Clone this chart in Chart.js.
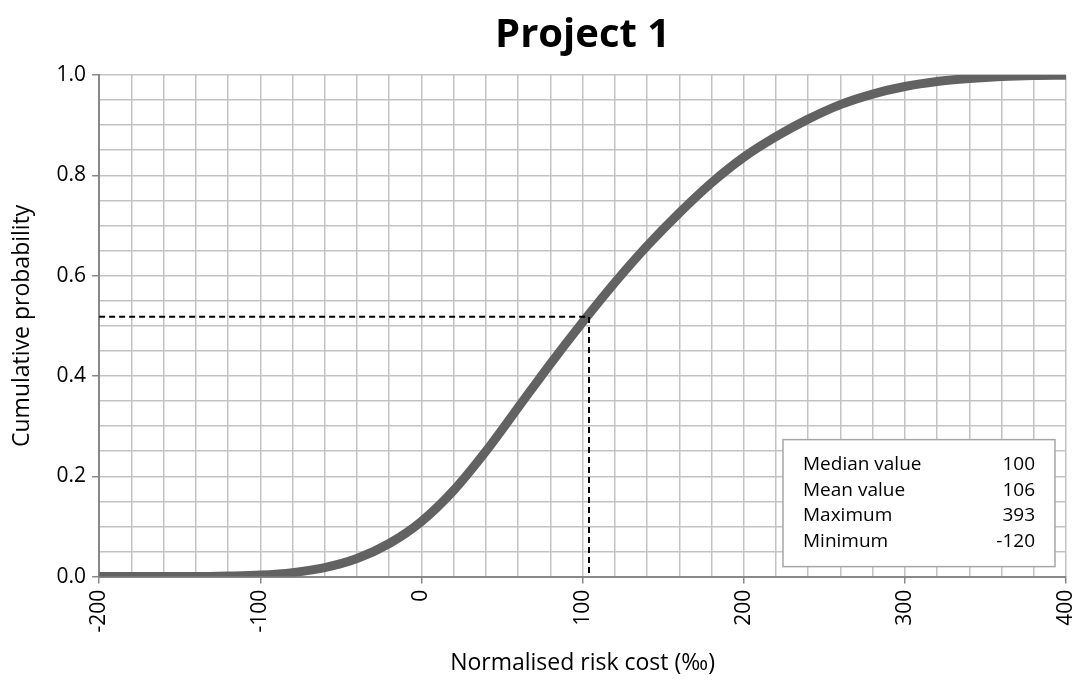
<!DOCTYPE html>
<html>
<head>
<meta charset="utf-8">
<script src="https://cdn.jsdelivr.net/npm/chart.js@4"></script>
<style>
  html, body { margin: 0; padding: 0; background: #fff; }
  #wrap { width: 1078px; height: 681px; }
</style>
</head>
<body>
<div id="wrap"><canvas id="grafico"></canvas></div>
<script>
// dados
const riskCost = [-200, -180, -160, -140, -120, -100, -80, -60, -40, -20, 0, 20, 40, 60, 80, 100,
  120, 140, 160, 180, 200, 220, 240, 260, 280, 300, 320, 340, 360, 380, 400];
const cumulativeProb = [0, 0, 0, 0, 0.001, 0.003, 0.008, 0.018, 0.036, 0.066, 0.110, 0.172, 0.250, 0.337, 0.424, 0.507,
  0.586, 0.659, 0.725, 0.785, 0.836, 0.877, 0.912, 0.941, 0.962, 0.977, 0.987, 0.993, 0.997, 0.999, 0.9995];

// linha tracejada (valor médio)
const markerX = 104;
const markerY = 0.518;

// caixa de estatísticas
const statLabels = ['Median value', 'Mean value', 'Maximum', 'Minimum'];
const statValues = ['100', '106', '393', '-120'];

const fonte = '"Open Sans", sans-serif';

const caixaStats = {
  id: 'caixaStats',
  afterDatasetsDraw(chart) {
    const ctx = chart.ctx;
    const area = chart.chartArea;
    const w = 272, h = 127;
    const x = area.right - 11 - w;
    const y = area.bottom - 10 - h;
    ctx.save();
    ctx.fillStyle = '#fff';
    ctx.fillRect(x, y, w, h);
    ctx.strokeStyle = '#a6a6a6';
    ctx.lineWidth = 1.5;
    ctx.strokeRect(x, y, w, h);
    ctx.fillStyle = '#000';
    ctx.font = '19px ' + fonte;
    ctx.textBaseline = 'middle';
    for (let i = 0; i < statLabels.length; i++) {
      const ty = y + 25 + i * 25.5;
      ctx.textAlign = 'left';
      ctx.fillText(statLabels[i], x + 20, ty);
      ctx.textAlign = 'right';
      ctx.fillText(statValues[i], x + w - 20, ty);
    }
    ctx.restore();
  }
};

const pontos = riskCost.map((v, i) => ({ x: v, y: cumulativeProb[i] }));

new Chart(document.getElementById('grafico'), {
  type: 'line',
  data: {
    datasets: [
      {
        data: [{ x: riskCost[0], y: markerY }, { x: markerX, y: markerY }, { x: markerX, y: 0 }],
        borderColor: '#000',
        borderWidth: 2,
        borderDash: [6, 4],
        pointRadius: 0,
        tension: 0
      },
      {
        data: pontos,
        borderColor: '#626262',
        borderWidth: 9,
        pointRadius: 0,
        cubicInterpolationMode: 'monotone'
      }
    ]
  },
  options: {
    responsive: true,
    maintainAspectRatio: false,
    animation: false,
    layout: { padding: { top: 12, right: 0, left: 9, bottom: 4 } },
    plugins: {
      legend: { display: false },
      tooltip: { enabled: false },
      title: {
        display: true,
        text: 'Project 1',
        fullSize: false,
        color: '#000',
        font: { family: fonte, size: 40, weight: 'bold' },
        padding: { top: 0, bottom: 15 }
      }
    },
    scales: {
      x: {
        type: 'linear',
        min: -200,
        max: 400,
        afterFit: s => { s.paddingRight = 12; },
        ticks: {
          stepSize: 20,
          autoSkip: false,
          maxRotation: 90,
          minRotation: 90,
          color: '#000',
          font: { family: fonte, size: 21 },
          padding: 6,
          callback: v => (Math.round(v) % 100 === 0 ? String(v) : '')
        },
        grid: {
          color: '#c3c3c3',
          lineWidth: 1.5,
          tickLength: 7,
          tickColor: c => (c.tick && Math.round(c.tick.value) % 100 === 0 ? '#888' : 'rgba(0,0,0,0)')
        },
        border: { display: true, color: '#888', width: 2 },
        title: {
          display: true,
          text: 'Normalised risk cost (‰)',
          color: '#000',
          font: { family: fonte, size: 23 },
          padding: { top: 11, bottom: 0 }
        }
      },
      y: {
        min: 0,
        max: 1,
        ticks: {
          stepSize: 0.05,
          autoSkip: false,
          color: '#000',
          font: { family: fonte, size: 21 },
          padding: 6,
          callback: v => (Math.round(v * 20) % 4 === 0 ? v.toFixed(1) : '')
        },
        grid: {
          color: '#c3c3c3',
          lineWidth: 1.5,
          tickLength: 7,
          tickColor: c => (c.tick && Math.round(c.tick.value * 20) % 4 === 0 ? '#888' : 'rgba(0,0,0,0)')
        },
        border: { display: true, color: '#888', width: 2 },
        title: {
          display: true,
          text: 'Cumulative probability',
          color: '#000',
          font: { family: fonte, size: 23 },
          padding: { top: 0, bottom: 14 }
        }
      }
    }
  },
  plugins: [caixaStats]
});
</script>
</body>
</html>
